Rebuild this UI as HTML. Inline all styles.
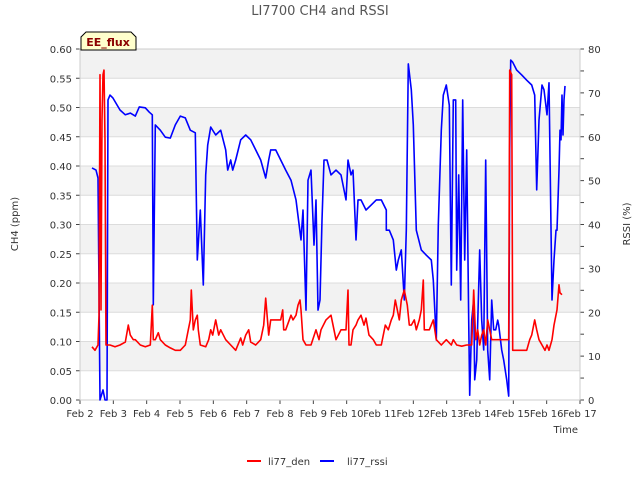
<!DOCTYPE html>
<html><head><meta charset="utf-8"><style>
body{margin:0;background:#fff;font-family:"Liberation Sans","DejaVu Sans",sans-serif}
svg text{font-family:"DejaVu Sans","Liberation Sans",sans-serif}
</style></head><body>
<svg id="c" width="640" height="480" xmlns="http://www.w3.org/2000/svg"></svg>
<script>
const xTickLabels=["Feb 2","Feb 3","Feb 4","Feb 5","Feb 6","Feb 7","Feb 8","Feb 9","Feb 10","Feb 11","Feb 12","Feb 13","Feb 14","Feb 15","Feb 16","Feb 17"];
const leftTicks=[0,0.05,0.1,0.15,0.2,0.25,0.3,0.35,0.4,0.45,0.5,0.55,0.6];
const rightTicks=[0,10,20,30,40,50,60,70,80];
const rssiT=[0.36,0.48,0.54,0.60,0.69,0.75,0.81,0.84,0.90,0.99,1.20,1.36,1.51,1.66,1.78,1.96,2.08,2.17,2.20,2.26,2.41,2.56,2.71,2.86,3.01,3.16,3.31,3.46,3.52,3.61,3.70,3.77,3.83,3.92,4.07,4.22,4.37,4.43,4.52,4.58,4.67,4.82,4.97,5.12,5.27,5.42,5.57,5.66,5.72,5.87,6.02,6.17,6.33,6.48,6.63,6.69,6.78,6.84,6.93,7.02,7.08,7.14,7.20,7.26,7.32,7.41,7.53,7.68,7.83,7.98,8.04,8.13,8.19,8.28,8.34,8.43,8.58,8.73,8.89,9.04,9.19,9.19,9.28,9.40,9.49,9.55,9.64,9.73,9.79,9.85,9.94,10.0,10.09,10.24,10.39,10.54,10.60,10.69,10.75,10.84,10.90,10.99,11.08,11.14,11.20,11.27,11.30,11.36,11.42,11.48,11.54,11.60,11.66,11.69,11.75,11.81,11.84,11.90,11.99,12.05,12.11,12.17,12.23,12.29,12.35,12.41,12.47,12.53,12.56,12.65,12.71,12.80,12.86,12.89,12.92,12.98,13.10,13.25,13.40,13.55,13.64,13.70,13.77,13.86,13.92,14.01,14.07,14.16,14.22,14.28,14.31,14.37,14.40,14.43,14.46,14.49,14.52,14.55];
const rssiV=[52.9,52.4,50.6,0,2.3,0,0,68.4,69.5,68.8,66.1,65.0,65.4,64.7,66.8,66.6,65.6,65.0,21.7,62.7,61.5,59.9,59.7,62.7,64.7,64.3,61.5,60.9,31.9,43.3,26.2,51.3,58.1,62.2,60.4,61.5,57.0,52.4,54.7,52.4,54.7,59.3,60.4,59.3,57.0,54.7,50.6,54.7,57.0,57.0,54.7,52.4,50.1,45.6,36.5,43.3,20.5,50.1,52.4,35.3,45.6,20.5,22.8,41.0,54.7,54.7,51.3,52.4,51.3,45.6,54.7,51.3,52.4,36.5,45.6,45.6,43.3,44.4,45.6,45.6,43.3,38.7,38.7,36.5,29.6,31.9,34.2,22.8,38.7,76.6,70.7,62.7,38.7,34.2,33.0,31.9,27.3,13.7,39.9,61.5,69.5,71.8,67.2,26.2,68.4,68.4,29.6,51.3,22.8,68.4,31.9,57.0,18.2,1.1,18.2,22.8,4.6,9.1,34.2,18.2,11.4,54.7,11.4,4.6,22.8,16.0,16.0,18.2,17.1,11.4,9.1,4.6,0.9,57.0,77.5,77.0,75.2,74.1,72.9,71.8,69.5,47.9,63.8,71.8,70.7,65.0,72.3,22.8,31.9,38.7,38.7,52.4,61.5,59.3,69.5,60.4,68.4,71.6];
const denT=[0.36,0.45,0.54,0.57,0.60,0.63,0.66,0.69,0.72,0.75,0.78,0.90,1.05,1.20,1.36,1.45,1.51,1.60,1.66,1.81,1.96,2.11,2.17,2.20,2.26,2.35,2.41,2.56,2.71,2.86,3.01,3.16,3.25,3.31,3.34,3.40,3.46,3.52,3.55,3.61,3.77,3.86,3.92,3.98,4.07,4.16,4.22,4.37,4.52,4.67,4.82,4.88,4.97,5.06,5.12,5.27,5.42,5.51,5.57,5.66,5.72,5.87,6.02,6.08,6.11,6.17,6.33,6.39,6.48,6.54,6.60,6.63,6.69,6.78,6.93,7.08,7.17,7.23,7.38,7.53,7.68,7.83,7.98,8.04,8.07,8.13,8.19,8.28,8.34,8.43,8.52,8.58,8.67,8.80,8.89,9.04,9.16,9.25,9.34,9.40,9.46,9.52,9.58,9.64,9.73,9.82,9.88,9.94,10.03,10.09,10.18,10.24,10.30,10.33,10.39,10.48,10.60,10.69,10.84,10.99,11.14,11.20,11.30,11.45,11.60,11.75,11.81,11.87,11.93,11.99,12.05,12.11,12.17,12.23,12.35,12.50,12.65,12.80,12.86,12.89,12.95,12.98,13.25,13.40,13.49,13.55,13.64,13.70,13.77,13.86,13.95,14.01,14.07,14.16,14.22,14.31,14.37,14.40,14.46];
const denV=[0.091,0.085,0.094,0.145,0.556,0.154,0.479,0.556,0.564,0.445,0.094,0.094,0.091,0.094,0.099,0.128,0.111,0.103,0.103,0.094,0.091,0.094,0.162,0.103,0.103,0.115,0.103,0.094,0.089,0.085,0.085,0.094,0.120,0.137,0.188,0.120,0.137,0.145,0.120,0.094,0.091,0.103,0.120,0.111,0.137,0.111,0.120,0.103,0.094,0.085,0.106,0.094,0.111,0.120,0.099,0.094,0.103,0.128,0.174,0.111,0.137,0.137,0.137,0.154,0.120,0.120,0.145,0.137,0.145,0.162,0.171,0.154,0.103,0.094,0.094,0.120,0.103,0.120,0.137,0.145,0.103,0.120,0.120,0.188,0.094,0.094,0.120,0.128,0.137,0.145,0.128,0.140,0.111,0.103,0.094,0.094,0.128,0.120,0.137,0.145,0.171,0.154,0.137,0.171,0.188,0.162,0.128,0.128,0.137,0.120,0.137,0.154,0.205,0.120,0.120,0.120,0.137,0.103,0.094,0.103,0.094,0.103,0.094,0.092,0.094,0.094,0.188,0.103,0.120,0.094,0.111,0.120,0.094,0.137,0.103,0.103,0.103,0.103,0.103,0.564,0.556,0.085,0.085,0.085,0.103,0.111,0.137,0.120,0.103,0.094,0.085,0.094,0.085,0.103,0.128,0.154,0.197,0.183,0.180];

const L=80,R=580,T=49,B=400;
const xs=d=>L+d*(R-L)/15;
const yl=v=>B-v*(B-T)/0.6;
const yr=v=>B-v*(B-T)/80;
const svg=document.getElementById('c');
const NS='http://www.w3.org/2000/svg';
function mk(tag,attrs,parent){const e=document.createElementNS(NS,tag);for(const k in attrs)e.setAttribute(k,attrs[k]);(parent||svg).appendChild(e);return e;}
function txt(s,attrs){const e=mk('text',attrs);e.textContent=s;return e;}

const bg=mk('rect',{x:L,y:T,width:R-L,height:B-T,fill:'#fff'});


for(let i=1;i<12;i+=2){
  const b=mk('rect',{x:L,y:yl(leftTicks[i+1]),width:R-L,height:yl(leftTicks[i])-yl(leftTicks[i+1]),fill:'#f2f2f2'});
  
  
}
leftTicks.forEach(v=>{
  const g=mk('line',{x1:L,x2:R,y1:yl(v),y2:yl(v),stroke:'#dcdcdc','stroke-width':1});
  
  
  mk('line',{x1:L-4,x2:L,y1:yl(v),y2:yl(v),stroke:'#444'});
  const t=txt(v.toFixed(2),{x:L-8,y:yl(v)+4,'text-anchor':'end','font-size':10,fill:'#333'});
  
  
});
rightTicks.forEach(v=>{
  mk('line',{x1:R,x2:R+4,y1:yr(v),y2:yr(v),stroke:'#444'});
  if(v<80)mk('line',{x1:R,x2:R+4,y1:yr(v+5),y2:yr(v+5),stroke:'#444'});
  const t=txt(String(v),{x:R+8,y:yr(v)+4,'font-size':10,fill:'#333'});
  
  
});
xTickLabels.forEach((s,i)=>{
  mk('line',{x1:xs(i),x2:xs(i),y1:B,y2:B+4,stroke:'#444'});
  const t=txt(s,{x:xs(i),y:B+17,'text-anchor':'middle','font-size':10,fill:'#333'});
  
  
});
const fr=mk('rect',{x:L,y:T,width:R-L,height:B-T,fill:'none',stroke:'#ccc'});



const pb=mk('polyline',{points:rssiT.map((t,i)=>xs(t).toFixed(1)+','+yr(rssiV[i]).toFixed(1)).join(' '),fill:'none',stroke:'#0000ff','stroke-width':1.6,'stroke-linejoin':'round'});


const pr=mk('polyline',{points:denT.map((t,i)=>xs(t).toFixed(1)+','+yl(denV[i]).toFixed(1)).join(' '),fill:'none',stroke:'#ff0000','stroke-width':1.6,'stroke-linejoin':'round'});



let e;
e=txt('LI7700 CH4 and RSSI',{x:320,y:15,'text-anchor':'middle','font-size':13,fill:'#555'});


e=txt('CH4 (ppm)',{x:18,y:224,'text-anchor':'middle','font-size':10,fill:'#333',transform:'rotate(-90 18 224)'});


e=txt('RSSI (%)',{x:630,y:224,'text-anchor':'middle','font-size':10,fill:'#333',transform:'rotate(-90 630 224)'});


e=txt('Time',{x:578,y:433,'text-anchor':'end','font-size':10,fill:'#333'});



e=mk('path',{d:'M81,50 L81,37 L86,32 L131,32 L136,37 L136,50 Z',fill:'#ffffcc',stroke:'#000','stroke-width':1});


e=txt('EE_flux',{x:108,y:46,'text-anchor':'middle','font-size':11,'font-weight':'bold',fill:'#8b0000'});



e=mk('line',{x1:247,x2:261,y1:461,y2:461,stroke:'#ff0000','stroke-width':2});


e=txt('li77_den',{x:268,y:465,'font-size':10,fill:'#333'});


e=mk('line',{x1:320,x2:334,y1:461,y2:461,stroke:'#0000ff','stroke-width':2});


e=txt('li77_rssi',{x:347,y:465,'font-size':10,fill:'#333'});


</script>
</body></html>
